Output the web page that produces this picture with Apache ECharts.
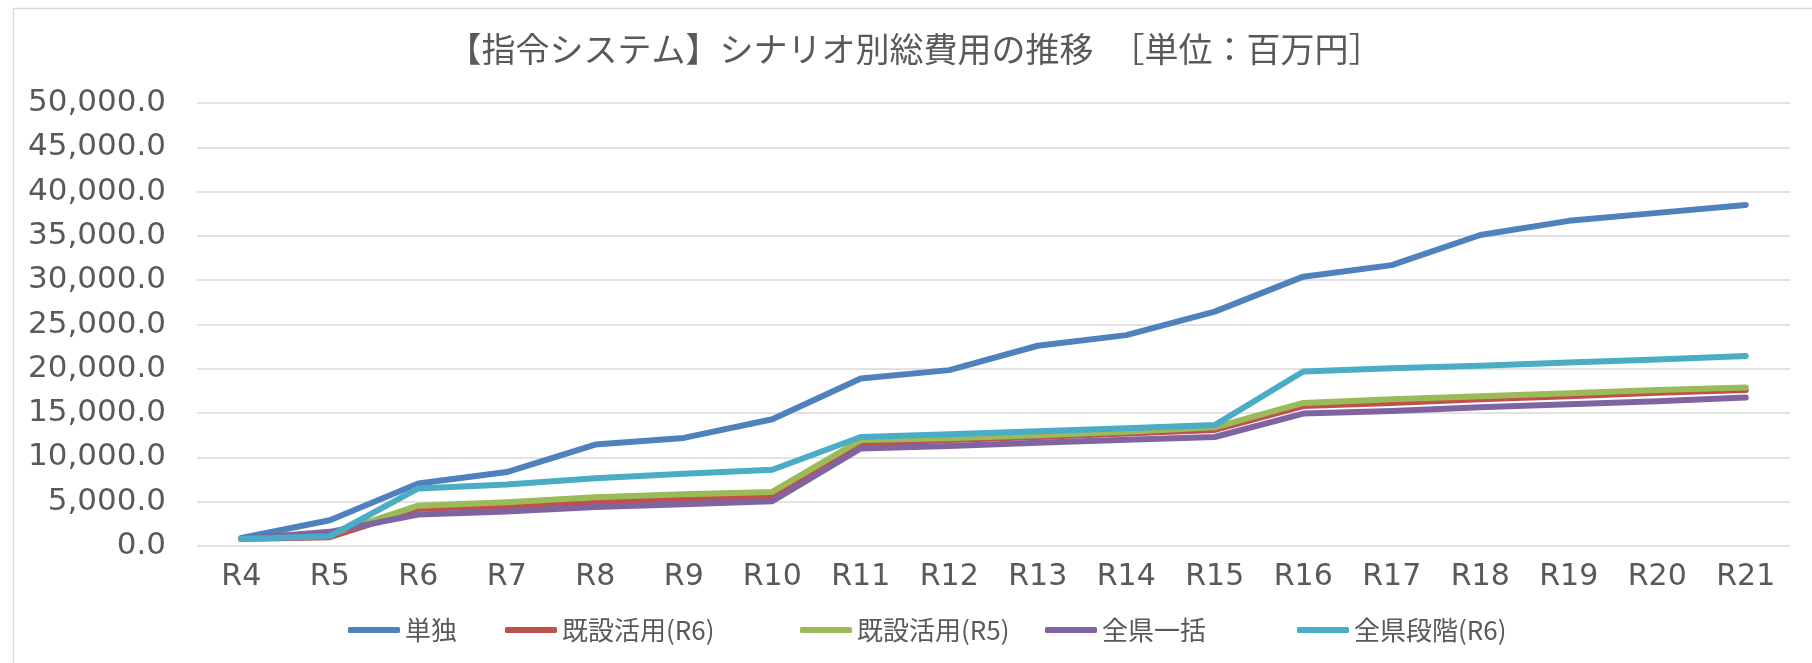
<!DOCTYPE html>
<html>
<head>
<meta charset="utf-8">
<script src="https://cdn.jsdelivr.net/npm/echarts@6/dist/echarts.min.js"></script>
<style>
html,body{margin:0;padding:0;background:#fff;}
#chart{width:1812px;height:663px;}
</style>
</head>
<body>
<div id="chart"></div>
<script>
const titleText = '【指令システム】シナリオ別総費用の推移　［単位：百万円］';
const categories = ['R4','R5','R6','R7','R8','R9','R10','R11','R12','R13','R14','R15','R16','R17','R18','R19','R20','R21'];
const seriesNames = ['単独','既設活用(R6)','既設活用(R5)','全県一括','全県段階(R6)'];
const tandoku   = [900, 2900, 7050, 8350, 11450, 12200, 14300, 18900, 19850, 22600, 23800, 26450, 30400, 31700, 35100, 36700, 37600, 38500];
const kisetsuR6 = [800, 1000, 4200, 4500, 5000, 5250, 5600, 11550, 11950, 12300, 12700, 13100, 15800, 16150, 16550, 16900, 17300, 17600];
const kisetsuR5 = [800, 1300, 4550, 4950, 5500, 5850, 6100, 11950, 12150, 12500, 12900, 13400, 16150, 16550, 16900, 17250, 17600, 17900];
const zenkenIk  = [800, 1600, 3550, 3900, 4400, 4700, 5050, 11000, 11300, 11650, 12000, 12300, 14950, 15250, 15650, 16000, 16350, 16750];
const zenkenDk  = [800, 1100, 6500, 6950, 7650, 8150, 8600, 12300, 12600, 12950, 13300, 13650, 19700, 20050, 20350, 20700, 21050, 21450];
const colors = ['#4F81BD','#C0504D','#9BBB59','#8064A2','#4BACC6'];
const legendLefts = [343, 500, 795, 1040, 1292];

const dataSets = [tandoku, kisetsuR6, kisetsuR5, zenkenIk, zenkenDk];
const textColor = '#595959';
const fontFam = '"DejaVu Sans", "Noto Sans CJK JP", sans-serif';

const chart = echarts.init(document.getElementById('chart'));
chart.setOption({
  backgroundColor: '#fff',
  animation: false,
  color: colors,
  graphic: [{
    type: 'rect', left: 11, top: 6,
    shape: {width: 1830, height: 700},
    style: {fill: 'none', stroke: '#d9d9d9', lineWidth: 1.5},
    silent: true
  }],
  title: {
    text: titleText,
    left: 910, top: 27, textAlign: 'center',
    textStyle: {color: textColor, fontSize: 34, fontWeight: 'normal', fontFamily: '"Noto Sans CJK JP", sans-serif'}
  },
  legend: seriesNames.map((n, i) => ({
    data: [n],
    left: legendLefts[i], top: 612,
    itemWidth: 52, itemHeight: 6, itemGap: 0,
    icon: 'roundRect',
    textStyle: {color: textColor, fontSize: 26, fontFamily: '"Noto Sans CJK JP", sans-serif', padding: [0,0,0,0]},
    selectedMode: false
  })),
  grid: {left: 197, right: 22, top: 103, bottom: 117, containLabel: false},
  xAxis: {
    type: 'category',
    data: categories,
    boundaryGap: true,
    axisLine: {show: false},
    axisTick: {show: false},
    axisLabel: {color: textColor, fontSize: 30, fontFamily: fontFam, margin: 16}
  },
  yAxis: {
    type: 'value',
    min: 0, max: 50000, interval: 5000,
    axisLine: {show: false},
    axisTick: {show: false},
    splitLine: {lineStyle: {color: '#d9d9d9', width: 1.5}},
    axisLabel: {
      color: textColor, fontSize: 31, fontFamily: fontFam, margin: 31,
      formatter: v => v.toLocaleString('en-US', {minimumFractionDigits: 1, maximumFractionDigits: 1})
    }
  },
  series: seriesNames.map((n, i) => ({
    name: n,
    type: 'line',
    data: dataSets[i],
    symbol: 'none',
    lineStyle: {width: 6, color: colors[i], cap: 'round', join: 'round'},
    itemStyle: {color: colors[i]}
  }))
});
</script>
</body>
</html>
